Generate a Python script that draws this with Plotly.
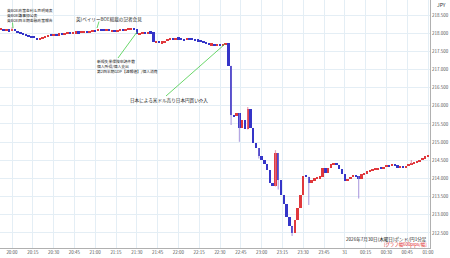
import plotly.graph_objects as go

# bar time in minutes from 20:00 (2026-07-30), 2-minute bars
bar_minutes = list(range(-8, 301, 2))
closes = [
    218.11, 218.09, 218.10, 218.06, 218.12, 218.05, 218.04, 218.00, 217.96, 217.95,
    217.92, 217.90, 217.88, 217.82, 217.85, 217.90, 217.92, 217.95, 217.94, 217.97,
    217.96, 217.98, 217.97, 218.00, 218.01, 217.99, 218.02, 218.03, 218.02, 218.04,
    218.05, 218.04, 218.06, 218.08, 218.07, 218.11, 218.09, 218.08, 218.10, 218.07,
    218.08, 218.06, 218.08, 218.10, 218.09, 218.11, 218.12, 218.14, 218.12, 217.99,
    218.00, 218.02, 218.01, 218.03, 218.02, 217.77, 217.78, 217.74, 217.76, 217.79,
    217.83, 217.86, 217.84, 217.87, 217.85, 217.84, 217.82, 217.85, 217.84, 217.83,
    217.81, 217.80, 217.78, 217.76, 217.72, 217.69, 217.70, 217.67, 217.68, 217.66,
    217.68, 217.72, 217.10, 215.75, 215.72, 215.80, 215.40, 215.62, 215.35, 215.90,
    215.40, 214.98, 214.84, 214.62, 214.50, 214.40, 214.22, 213.88, 213.78, 214.70,
    213.95, 213.55, 213.30, 212.95, 212.68, 212.50, 212.86, 213.20, 213.55, 214.08,
    214.05, 213.88, 213.95, 214.00, 214.02, 214.05, 214.28, 214.15, 214.30, 214.40,
    214.42, 214.38, 214.25, 214.12, 213.92, 213.98, 214.05, 214.10, 214.06, 213.98,
    214.12, 214.15, 214.20, 214.22, 214.25, 214.27, 214.29, 214.28, 214.33, 214.37,
    214.34, 214.40, 214.36, 214.31, 214.33, 214.32, 214.34, 214.40, 214.43, 214.44,
    214.47, 214.50, 214.57, 214.60, 214.65,
]
first_open = 218.11
wick_high = {0: 218.16, 170: 215.97, 178: 214.72, 190: 214.78, 288: 214.51}
wick_low = {158: 215.47, 164: 215.01, 178: 214.55, 192: 213.70, 202: 212.42,
            214: 213.27, 250: 213.45}

x_tick_minutes = list(range(0, 301, 15))
x_tick_labels = ["20:00", "20:15", "20:30", "20:45", "21:00", "21:15", "21:30", "21:45",
                 "22:00", "22:15", "22:30", "22:45", "23:00", "23:15", "23:30", "23:45",
                 "31", "00:15", "00:30", "00:45", "01:00"]
y_ticks = [212.5, 213.0, 213.5, 214.0, 214.5, 215.0, 215.5, 216.0, 216.5, 217.0, 217.5, 218.0, 218.5]

opens = [first_open] + closes[:-1]
highs, lows = [], []
for m, o, c in zip(bar_minutes, opens, closes):
    highs.append(max(o, c, wick_high.get(m, 0)))
    lows.append(min(o, c, wick_low.get(m, 1e9)))

FONT = "Noto Sans CJK JP"
RED = "#e0383c"
BLUE = "#3535c8"
GREEN = "#44cc44"
MIN_BODY = 0.045  # minimal visible body height (style)

fig = go.Figure()

# wicks (lighter), drawn underneath bodies
for up, col in ((True, "rgba(225,120,150,0.7)"), (False, "rgba(150,130,215,0.7)")):
    wx, wy = [], []
    for m, o, c, h, l in zip(bar_minutes, opens, closes, highs, lows):
        if (c >= o) == up and (h > max(o, c) or l < min(o, c)):
            wx += [m, m, None]
            wy += [l, h, None]
    fig.add_trace(go.Scatter(x=wx, y=wy, mode="lines", line=dict(color=col, width=1.2),
                             hoverinfo="skip"))

# candle bodies as bars so consecutive candles join up
bases, heights, colors = [], [], []
for o, c in zip(opens, closes):
    lo, hi = min(o, c), max(o, c)
    if hi - lo < MIN_BODY:
        mid = (hi + lo) / 2
        lo, hi = mid - MIN_BODY / 2, mid + MIN_BODY / 2
    bases.append(lo)
    heights.append(hi - lo)
    colors.append(RED if c >= o else BLUE)
fig.add_trace(go.Bar(x=bar_minutes, y=heights, base=bases, width=1.75,
                     marker=dict(color=colors, line=dict(width=0)), hoverinfo="skip"))

# pixel helpers for annotation placement (plot area 430x248)
def px_to_m(px):
    return (px - 12) * 15 / 20.8

def py_to_p(py):
    return 218.5 - (py - 15) / 36.33

shapes = []
def gline(x0, y0, x1, y1):
    shapes.append(dict(type="line", xref="x", yref="y",
                       x0=px_to_m(x0), y0=py_to_p(y0), x1=px_to_m(x1), y1=py_to_p(y1),
                       line=dict(color=GREEN, width=0.8)))

gline(12.5, 22.5, 13, 28)
gline(99, 21.5, 97, 28)
gline(118, 58, 137, 32)
gline(166, 96, 225, 44)

annotations = []
def txt(text, px, py, color="#222", anchor="left", size=4.0):
    annotations.append(dict(text=text, x=px_to_m(px), y=py_to_p(py), xref="x", yref="y",
                            xanchor=anchor, yanchor="middle", align=anchor,
                            showarrow=False,
                            font=dict(family=FONT, size=size, color=color)))

txt("英BOE政策金利＆声明発表<br>英BOE議事録公表<br>英BOE四半期金融政策報告", 5, 15.3, size=3.8)
txt("英)ベイリーBOE総裁の記者会見", 74, 19, size=4.6)
txt("新規失業保険申請件数<br>個人所得/個人支出<br>第2四半期GDP【速報値】/個人消費", 95, 66.2, size=3.8)
txt("日本による米ドル売り日本円買い介入", 128, 100, size=4.6)
txt("2026年7月30日(木曜日)ポンド/円1分足", 429, 239, anchor="right", size=4.6)
txt("[グラフ幅600pips/幅]", 429, 244.6, color="#e02020", anchor="right", size=4.4)

annotations.append(dict(text="JPY", x=441 / 430, y=1 - 5 / 248, xref="paper", yref="paper",
                        xanchor="center", yanchor="middle", showarrow=False,
                        font=dict(family=FONT, size=5, color="#333")))

fig.update_layout(
    width=450, height=258,
    margin=dict(l=0, r=20, t=0, b=10),
    paper_bgcolor="white", plot_bgcolor="white",
    showlegend=False, bargap=0,
    shapes=shapes, annotations=annotations,
    font=dict(family=FONT, size=5, color="#444"),
    xaxis=dict(range=[px_to_m(0), px_to_m(430)],
               tickvals=x_tick_minutes, ticktext=x_tick_labels,
               showgrid=True, gridcolor="#e4eef5", gridwidth=1,
               showline=True, linecolor="#b0b0b0", linewidth=1,
               zeroline=False, ticks="", tickfont=dict(size=4.5, color="#555")),
    yaxis=dict(range=[py_to_p(248), py_to_p(0)], side="right",
               tickvals=y_ticks, ticktext=[f"{v:.3f}" for v in y_ticks],
               showgrid=True, gridcolor="#e4eef5", gridwidth=1,
               showline=True, linecolor="#b0b0b0", linewidth=1,
               zeroline=False, ticks="", tickfont=dict(size=4.5, color="#555")),
)

fig.write_html("out.html")
